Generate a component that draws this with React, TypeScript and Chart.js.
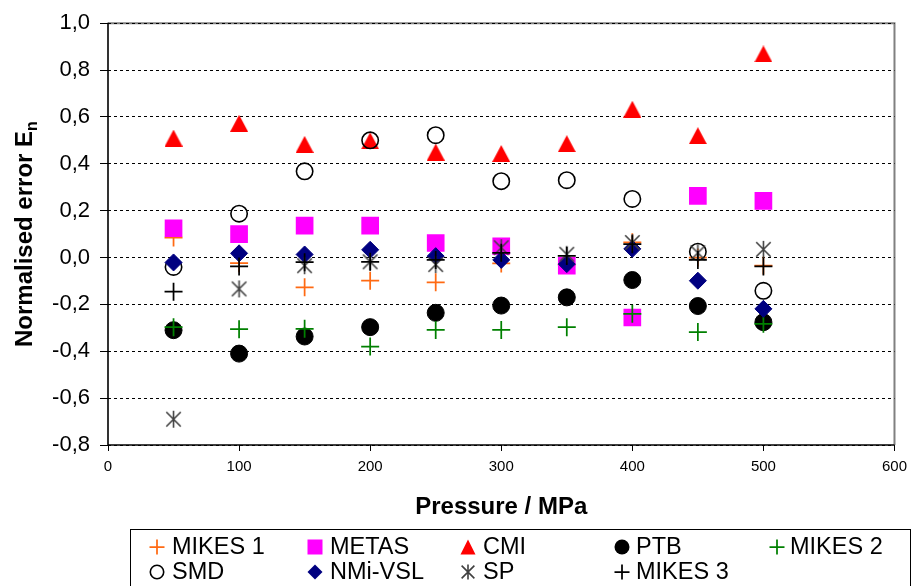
import React, { useEffect, useRef } from 'react';
import { Chart, registerables } from 'chart.js';
Chart.register(...registerables);

const pressures = [50, 100, 150, 200, 250, 300, 350, 400, 450, 500];
const seriesNames = ['MIKES 1', 'METAS', 'CMI', 'PTB', 'MIKES 2', 'SMD', 'NMi-VSL', 'SP', 'MIKES 3'];
const mikes1 = [0.085, -0.024, -0.127, -0.099, -0.106, -0.025, -0.03, 0.065, 0.0, -0.034];
const metas = [0.125, 0.10, 0.136, 0.136, 0.062, 0.048, -0.035, -0.256, 0.263, 0.242];
const cmi = [0.51, 0.573, 0.483, 0.498, 0.45, 0.444, 0.486, 0.633, 0.52, 0.869];
const ptb = [-0.31, -0.41, -0.337, -0.297, -0.236, -0.205, -0.17, -0.096, -0.207, -0.276];
const mikes2 = [-0.297, -0.306, -0.304, -0.38, -0.309, -0.309, -0.297, -0.24, -0.318, -0.283];
const smd = [-0.04, 0.187, 0.368, 0.5, 0.522, 0.326, 0.33, 0.25, 0.025, -0.142];
const nmiVsl = [-0.021, 0.018, 0.013, 0.033, 0.006, -0.01, -0.028, 0.037, -0.099, -0.219];
const sp = [-0.69, -0.134, -0.035, -0.018, -0.03, 0.042, 0.014, 0.064, 0.02, 0.035];
const mikes3 = [-0.146, -0.038, -0.02, -0.018, -0.01, 0.02, 0.007, 0.057, -0.01, -0.038];
const yTicks = [-0.8, -0.6, -0.4, -0.2, 0, 0.2, 0.4, 0.6, 0.8, 1.0];
const xTicks = [0, 100, 200, 300, 400, 500, 600];
const xTitle = 'Pressure / MPa';
const yTitle = 'Normalised error E';
const yTitleSub = 'n';

const seriesValues = [mikes1, metas, cmi, ptb, mikes2, smd, nmiVsl, sp, mikes3];
const markerKinds = ['plus', 'square', 'triangle', 'dot', 'plus', 'ring', 'diamond', 'star', 'plus'];
const markerColors = ['#FF6A13', '#FF00FF', '#FF0000', '#000000', '#008000', '#000000', '#000080', '#404040', '#000000'];

const FONT = '"Liberation Sans", Arial, sans-serif';

function makeTriangle(color: string, w: number, h: number) {
  const c = document.createElement('canvas');
  c.width = w; c.height = h;
  const g = c.getContext('2d')!;
  g.fillStyle = color;
  g.beginPath();
  g.moveTo(w / 2, 0);
  g.lineTo(w, h);
  g.lineTo(0, h);
  g.closePath();
  g.fill();
  return c;
}

function makeStar(color: string, s: number, lw: number) {
  const c = document.createElement('canvas');
  c.width = s; c.height = s;
  const g = c.getContext('2d')!;
  g.strokeStyle = color;
  g.lineWidth = lw;
  const m = s / 2, r = s / 2 - 1;
  const d = r * 0.85;
  g.beginPath();
  g.moveTo(m, m - r); g.lineTo(m, m + r);
  g.moveTo(m - d, m - d); g.lineTo(m + d, m + d);
  g.moveTo(m + d, m - d); g.lineTo(m - d, m + d);
  g.stroke();
  return c;
}

function drawMarker(ctx: CanvasRenderingContext2D, kind: string, color: string, x: number, y: number, s: number) {
  ctx.save();
  ctx.fillStyle = color;
  ctx.strokeStyle = color;
  const r = s / 2;
  ctx.beginPath();
  switch (kind) {
    case 'plus':
      ctx.lineWidth = 1.75;
      ctx.moveTo(x - r, y); ctx.lineTo(x + r, y);
      ctx.moveTo(x, y - r); ctx.lineTo(x, y + r);
      ctx.stroke();
      break;
    case 'square':
      ctx.fillRect(x - r, y - r, s, s);
      break;
    case 'triangle':
      ctx.moveTo(x, y - r); ctx.lineTo(x + r, y + r); ctx.lineTo(x - r, y + r); ctx.closePath(); ctx.fill();
      break;
    case 'dot':
      ctx.arc(x, y, r, 0, Math.PI * 2); ctx.fill();
      break;
    case 'ring':
      ctx.lineWidth = 1.6;
      ctx.arc(x, y, r - 0.8, 0, Math.PI * 2); ctx.stroke();
      break;
    case 'diamond':
      ctx.moveTo(x, y - r); ctx.lineTo(x + r, y); ctx.lineTo(x, y + r); ctx.lineTo(x - r, y); ctx.closePath(); ctx.fill();
      break;
    case 'star': {
      ctx.lineWidth = 1.6;
      const d = r * 0.85;
      ctx.moveTo(x, y - r); ctx.lineTo(x, y + r);
      ctx.moveTo(x - d, y - d); ctx.lineTo(x + d, y + d);
      ctx.moveTo(x + d, y - d); ctx.lineTo(x - d, y + d);
      ctx.stroke();
      break;
    }
  }
  ctx.restore();
}

const decorPlugin = {
  id: 'decor',
  beforeDraw(chart: any) {
    const { ctx, chartArea: a } = chart;
    ctx.save();
    ctx.fillStyle = '#ffffff';
    ctx.fillRect(0, 0, chart.width, chart.height);
    ctx.strokeStyle = '#808080';
    ctx.lineWidth = 2;
    ctx.beginPath();
    ctx.moveTo(a.left, a.top);
    ctx.lineTo(a.right, a.top);
    ctx.lineTo(a.right, a.bottom);
    ctx.stroke();
    ctx.restore();
  },
  beforeDatasetsDraw(chart: any) {
    const { ctx, chartArea: a } = chart;
    ctx.save();
    ctx.setLineDash([]);
    ctx.strokeStyle = '#000';
    ctx.lineWidth = 1.6;
    ctx.beginPath();
    ctx.moveTo(a.left, a.top - 0.5);
    ctx.lineTo(a.left, a.bottom);
    ctx.lineTo(a.right, a.bottom);
    ctx.stroke();
    ctx.restore();
  },
  afterDraw(chart: any) {
    const { ctx, chartArea: a } = chart;
    ctx.save();
    ctx.fillStyle = '#000';
    // x title
    ctx.font = `bold 24px ${FONT}`;
    ctx.textAlign = 'center';
    ctx.textBaseline = 'alphabetic';
    ctx.fillText(xTitle, (a.left + a.right) / 2, 514);
    // y title
    ctx.save();
    ctx.translate(32, (a.top + a.bottom) / 2);
    ctx.rotate(-Math.PI / 2);
    ctx.font = `bold 24px ${FONT}`;
    const w1 = ctx.measureText(yTitle).width;
    ctx.font = `bold 16px ${FONT}`;
    const w2 = ctx.measureText(yTitleSub).width;
    const start = -(w1 + w2) / 2;
    ctx.textAlign = 'left';
    ctx.font = `bold 24px ${FONT}`;
    ctx.fillText(yTitle, start, 0);
    ctx.font = `bold 16px ${FONT}`;
    ctx.fillText(yTitleSub, start + w1, 5);
    ctx.restore();
    // legend
    ctx.strokeStyle = '#000';
    ctx.lineWidth = 1;
    ctx.strokeRect(130.5, 529.5, 780, 80);
    const colMarker = [157, 315, 468, 622, 777];
    const colText = [172, 330, 483, 636, 790];
    const rowY = [547, 572];
    ctx.font = `23.5px ${FONT}`;
    ctx.textAlign = 'left';
    ctx.textBaseline = 'middle';
    seriesNames.forEach((name, i) => {
      const row = Math.floor(i / 5), col = i % 5;
      drawMarker(ctx, markerKinds[i], markerColors[i], colMarker[col], rowY[row], 15);
      ctx.fillStyle = '#000';
      ctx.fillText(name, colText[col], rowY[row] + 1);
    });
    ctx.restore();
  },
};

export default function App() {
  const ref = useRef<HTMLCanvasElement | null>(null);
  useEffect(() => {
    document.body.style.margin = '0';
    const canvas = ref.current!;
    const tri = makeTriangle('#FF0000', 18, 17);
    const star = makeStar('#404040', 19, 1.6);
    const styleFor = (i: number) => {
      const k = markerKinds[i];
      const c = markerColors[i];
      const base: any = { pointBackgroundColor: c, pointBorderColor: c, borderColor: c, backgroundColor: c };
      switch (k) {
        case 'plus': return { ...base, pointStyle: 'cross', pointRadius: 9, pointBorderWidth: 1.75 };
        case 'square': return { ...base, pointStyle: 'rect', pointRadius: 12.5, pointBorderWidth: 0 };
        case 'triangle': return { ...base, pointStyle: tri, pointRadius: 9 };
        case 'dot': return { ...base, pointStyle: 'circle', pointRadius: 8.5, pointBorderWidth: 1 };
        case 'ring': return { ...base, pointStyle: 'circle', pointRadius: 8.2, pointBorderWidth: 1.6, pointBackgroundColor: 'rgba(0,0,0,0)' };
        case 'diamond': return { ...base, pointStyle: 'rectRot', pointRadius: 8.5, pointBorderWidth: 1 };
        case 'star': return { ...base, pointStyle: star, pointRadius: 9 };
      }
      return base;
    };
    const n = seriesNames.length;
    const datasets = seriesNames.map((name, i) => ({
      label: name,
      data: pressures.map((p, j) => ({ x: p, y: seriesValues[i][j] })),
      showLine: false,
      order: n - i,
      ...styleFor(i),
    }));
    const chart = new Chart(canvas, {
      type: 'scatter',
      data: { datasets },
      plugins: [decorPlugin],
      options: {
        animation: false,
        responsive: false,
        events: [],
        layout: { padding: { left: 0, top: 21, right: 16, bottom: 0 } },
        plugins: { legend: { display: false }, tooltip: { enabled: false } },
        scales: {
          x: {
            type: 'linear',
            min: 0,
            max: 600,
            afterBuildTicks: (s: any) => { s.ticks = xTicks.map((v) => ({ value: v })); },
            afterFit: (s: any) => { s.height = 141; },
            grid: { drawOnChartArea: false, drawTicks: true, tickLength: 6, tickColor: '#000', tickWidth: 1 },
            border: { display: false },
            ticks: { color: '#000', font: { family: FONT, size: 15 }, padding: 7, maxRotation: 0, autoSkip: false },
          },
          y: {
            type: 'linear',
            min: -0.8,
            max: 1.0,
            afterBuildTicks: (s: any) => { s.ticks = yTicks.map((v) => ({ value: v })); },
            afterFit: (s: any) => { s.width = 108; },
            grid: {
              color: '#000',
              lineWidth: 1,
              tickLength: 8,
              tickColor: '#000',
              tickBorderDash: [],
              tickWidth: 1,
            } as any,
            border: { display: false, dash: [3, 3] },
            ticks: {
              color: '#000',
              font: { family: FONT, size: 22 },
              padding: 10,
              autoSkip: false,
              callback: (v: any) => Number(v).toFixed(1).replace('.', ','),
            },
          },
        },
      } as any,
    });
    return () => chart.destroy();
  }, []);
  return <canvas ref={ref} width={914} height={586} style={{ display: 'block' }} />;
}
